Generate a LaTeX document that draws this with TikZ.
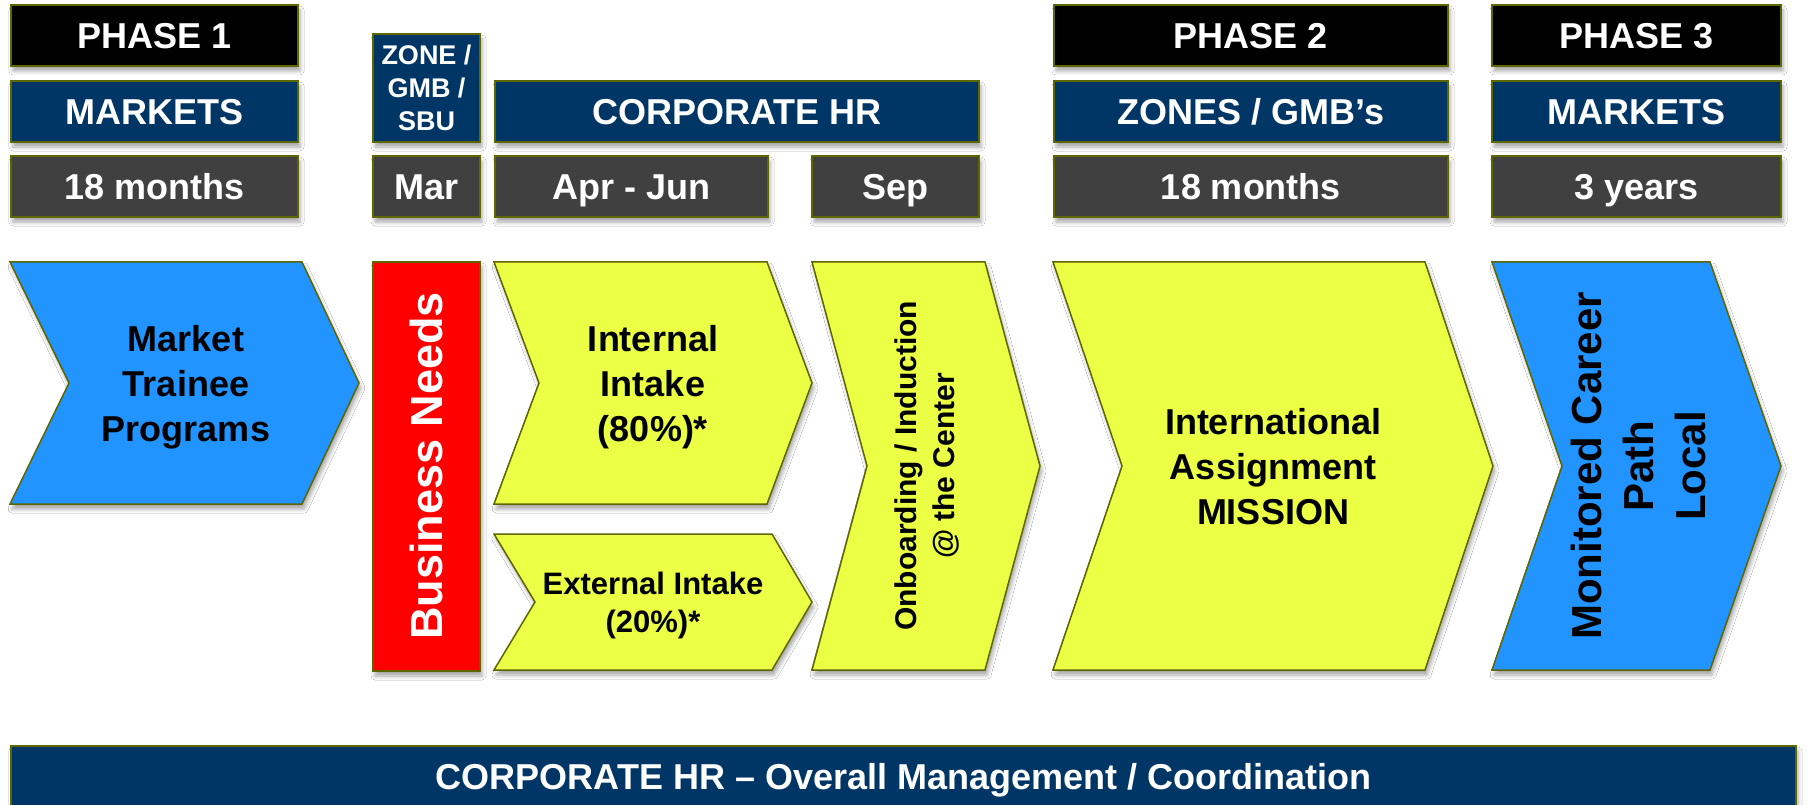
\documentclass[tikz,border=0pt]{standalone}
\usepackage{fontspec}
\setmainfont{Liberation Sans}
\usetikzlibrary{shadows.blur}
\definecolor{edgeol}{RGB}{94,102,0}
\definecolor{navy}{RGB}{0,54,102}
\definecolor{dgrey}{RGB}{64,64,64}
\definecolor{cblue}{RGB}{33,148,255}
\definecolor{cyel}{RGB}{235,255,69}
\definecolor{cred}{RGB}{255,0,0}
\tikzset{
  shad/.style={blur shadow={shadow xshift=2pt, shadow yshift=-5pt, shadow blur radius=4pt, shadow opacity=35}},
  hbox/.style={shad, draw=edgeol, line width=1.8pt, text=white, inner sep=0pt, align=center,
     font=\bfseries\fontsize{36}{43}\selectfont},
  oneline/.style={text height=26pt, text depth=0pt},
  blackbox/.style={hbox, oneline, fill=black},
  navybox/.style={hbox, oneline, fill=navy},
  greybox/.style={hbox, oneline, fill=dgrey},
  chev/.style={shad, draw=edgeol, line width=1.5pt},
  ctext/.style={align=center, text=black, inner sep=0pt, font=\bfseries\fontsize{36}{45}\selectfont},
}
\begin{document}
\begin{tikzpicture}[x=1pt, y=-1pt]
\useasboundingbox (0,0) rectangle (1808,805);
\fill[white] (0,0) rectangle (1808,805);

% ---- header boxes
\node[blackbox, minimum width=287pt, minimum height=61pt] (ph1) at (154.5,35.5) {PHASE 1};
\node[navybox, minimum width=287pt, minimum height=61pt] (mk1) at (154.5,111.5) {MARKETS};
\node[greybox, minimum width=287pt, minimum height=61pt] (mo1) at (154.5,186.5) {18 months};

\node[hbox, fill=navy, minimum width=107pt, minimum height=108pt, font=\bfseries\fontsize{27}{33}\selectfont] (zone) at (426.5,88) {ZONE /\\GMB /\\SBU};
\node[greybox, minimum width=107pt, minimum height=61pt] (mar) at (426.5,186.5) {Mar};

\node[navybox, minimum width=484pt, minimum height=61pt] (chr) at (737,111.5) {CORPORATE HR};
\node[greybox, minimum width=273pt, minimum height=61pt] (apr) at (631.5,186.5) {Apr - Jun};
\node[greybox, minimum width=167pt, minimum height=61pt] (sep) at (895.5,186.5) {Sep};

\node[blackbox, minimum width=394pt, minimum height=61pt] (ph2) at (1251,35.5) {PHASE 2};
\node[navybox, minimum width=394pt, minimum height=61pt] (zn2) at (1251,111.5) {ZONES / GMB’s};
\node[greybox, minimum width=394pt, minimum height=61pt] (mo2) at (1251,186.5) {18 months};

\node[blackbox, minimum width=289pt, minimum height=61pt] (ph3) at (1636.5,35.5) {PHASE 3};
\node[navybox, minimum width=289pt, minimum height=61pt] (mk3) at (1636.5,111.5) {MARKETS};
\node[greybox, minimum width=289pt, minimum height=61pt] (yr3) at (1636.5,186.5) {3 years};

% ---- chevrons
\filldraw[chev, fill=cblue] (10,262) -- (302,262) -- (359,383) -- (302,504) -- (10,504) -- (69,383) -- cycle;
\node[ctext] (mtp) at (186,387) {Market\\Trainee\\Programs};

\filldraw[chev, fill=cred] (373,262) rectangle (480,671);
\node[ctext, text=white, rotate=90, font=\bfseries\fontsize{45}{52}\selectfont] (bn) at (426.5,466) {Business Needs};

\filldraw[chev, fill=cyel] (494,262) -- (767,262) -- (812,383) -- (767,504) -- (494,504) -- (539,383) -- cycle;
\node[ctext] (ii) at (653,387) {Internal\\Intake\\(80\%)*};

\filldraw[chev, fill=cyel] (494,534) -- (772,534) -- (812,602) -- (772,670) -- (494,670) -- (535,602) -- cycle;
\node[ctext, font=\bfseries\fontsize{31}{38}\selectfont] (ei) at (653,605) {External Intake\\(20\%)*};

\filldraw[chev, fill=cyel] (812,262) -- (985,262) -- (1040,466) -- (985,670) -- (812,670) -- (867,466) -- cycle;
\node[ctext, rotate=90, font=\bfseries\fontsize{30}{38}\selectfont] (ob) at (927,466) {Onboarding / Induction\\@ the Center};

\filldraw[chev, fill=cyel] (1053,262) -- (1425,262) -- (1493,466) -- (1425,670) -- (1053,670) -- (1122,466) -- cycle;
\node[ctext] (ia) at (1273,467) {International\\Assignment\\MISSION};

\filldraw[chev, fill=cblue] (1492,262) -- (1710,262) -- (1781,466) -- (1710,670) -- (1492,670) -- (1562,466) -- cycle;
\node[ctext, rotate=90, font=\bfseries\fontsize{42}{52}\selectfont] (mc) at (1638,466) {Monitored Career\\Path\\Local};

% ---- bottom bar
\begin{scope}
\clip (0,0) rectangle (1808,805);
\node[navybox, minimum width=1785pt, minimum height=61pt] (bar) at (903.5,776.5) {CORPORATE HR – Overall Management / Coordination};
\end{scope}
\end{tikzpicture}
\end{document}
